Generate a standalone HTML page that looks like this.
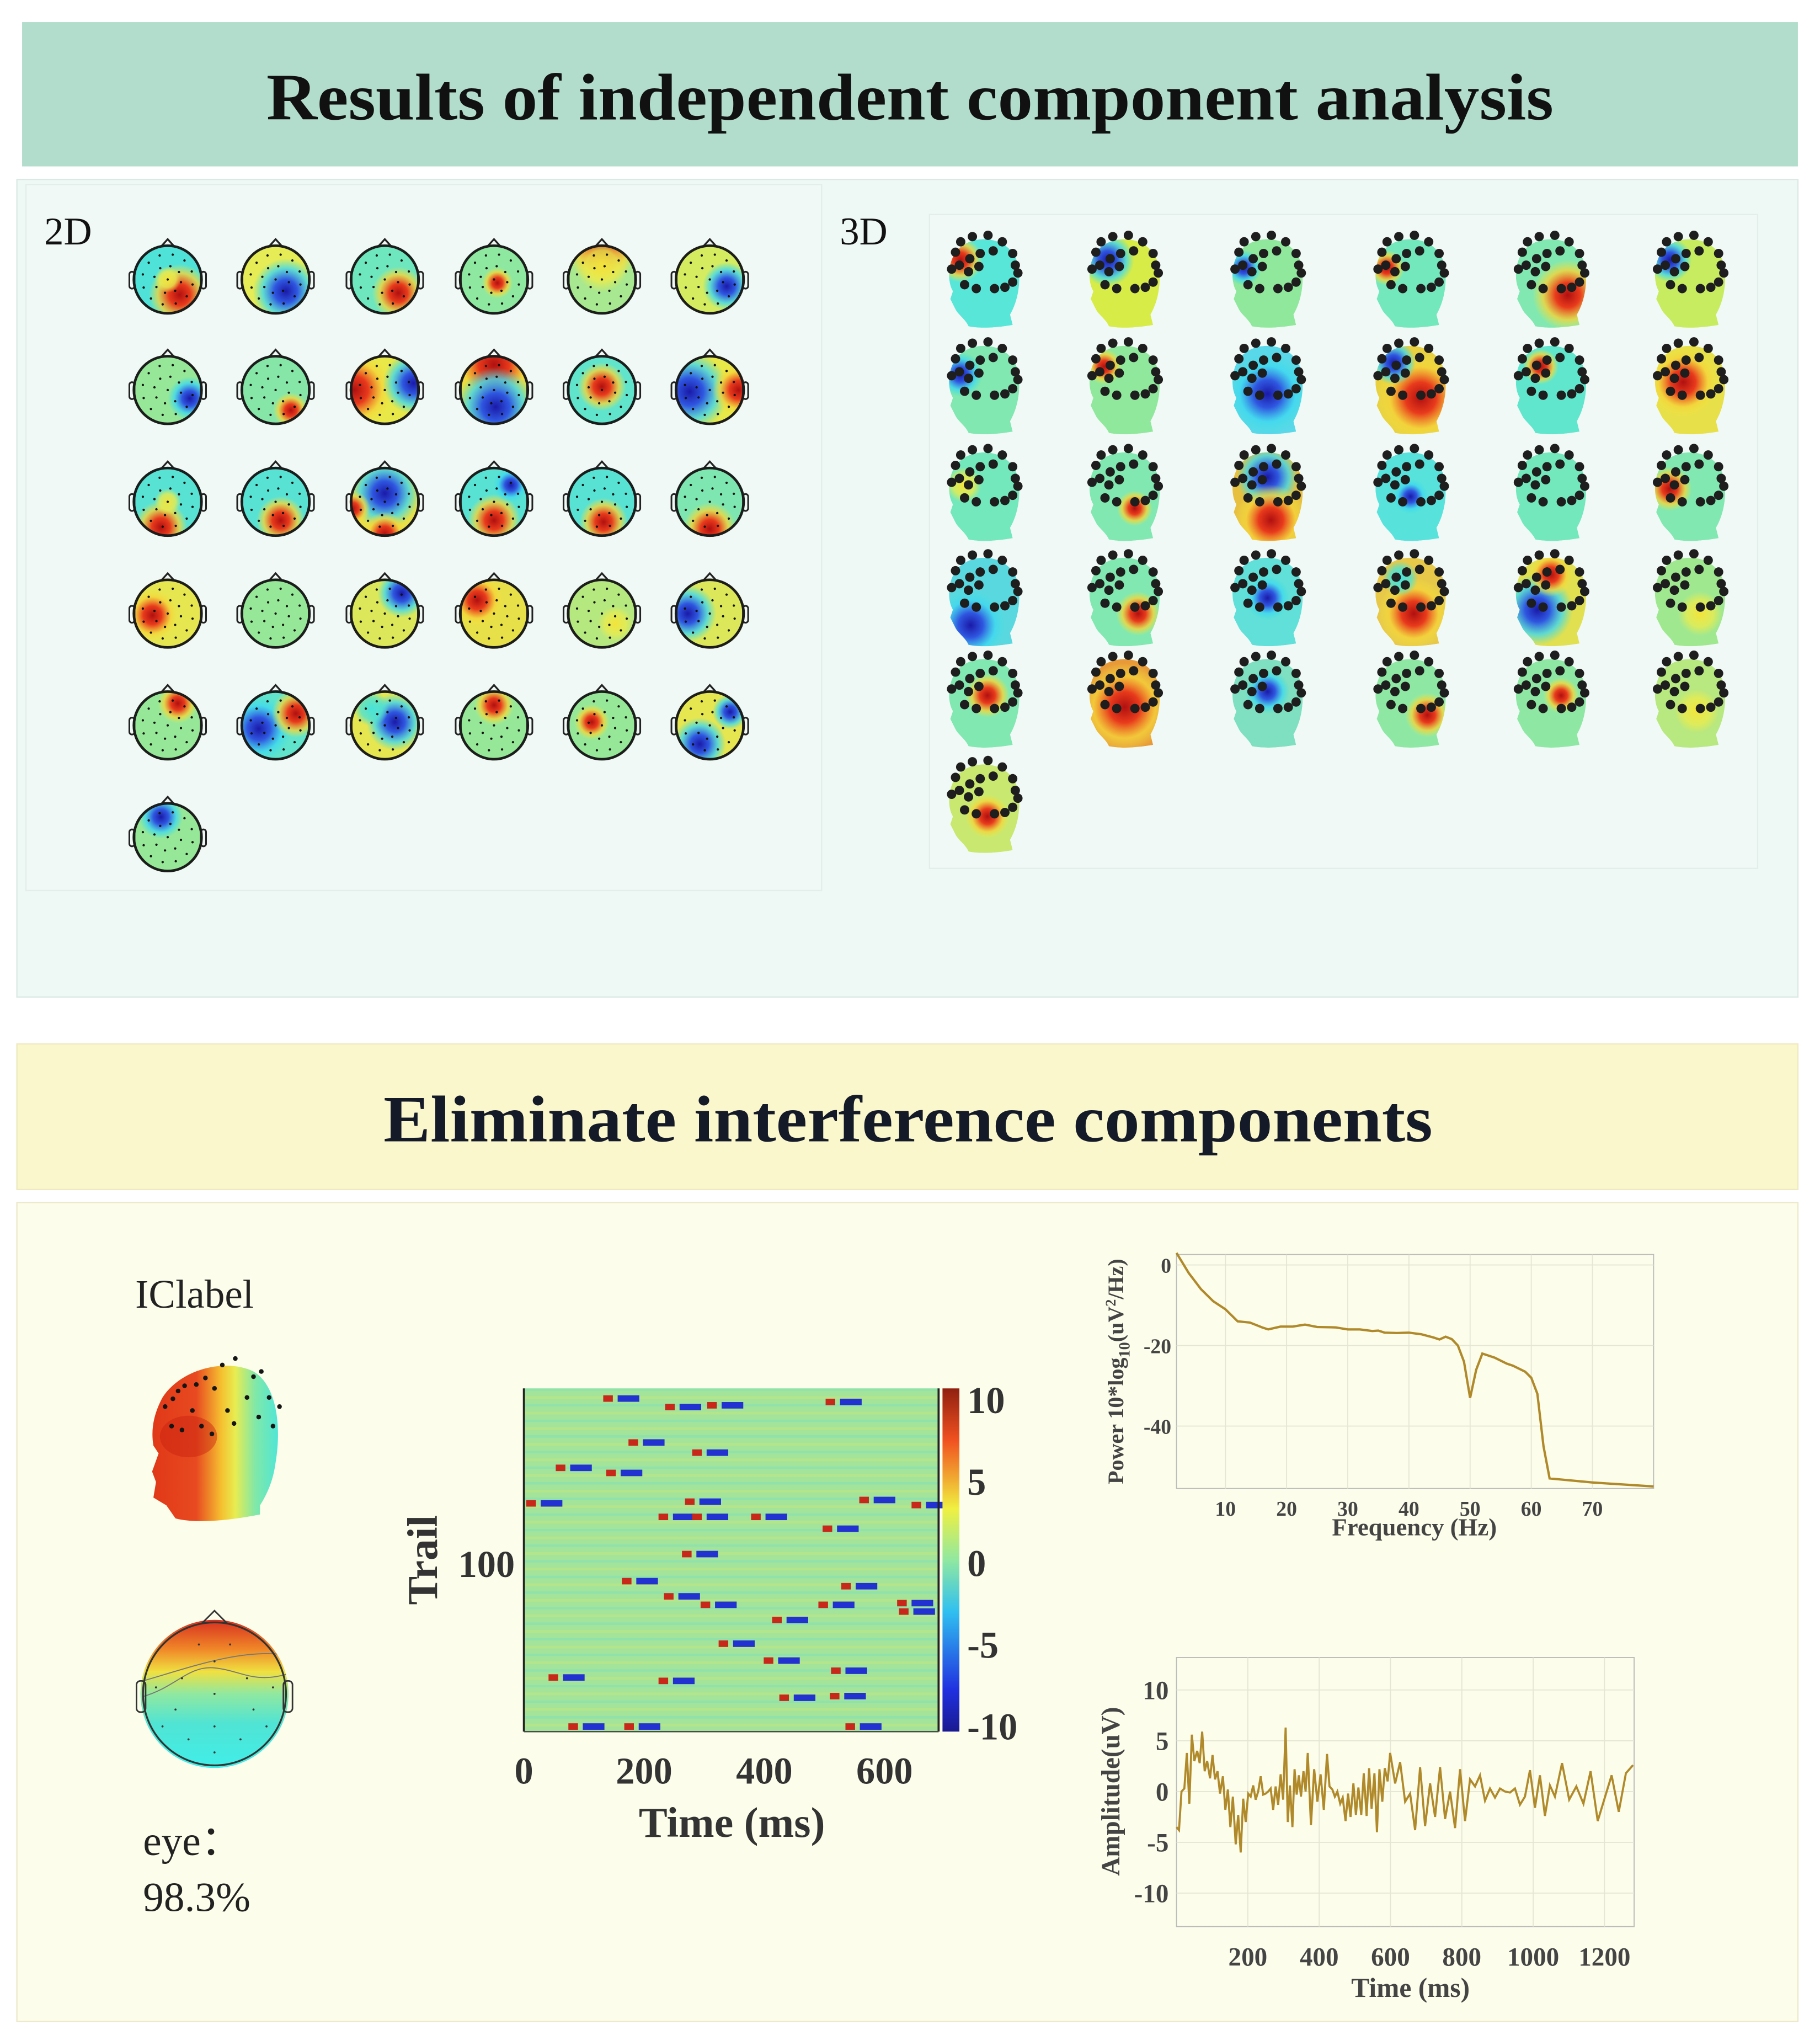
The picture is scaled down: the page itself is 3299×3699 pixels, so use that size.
<!DOCTYPE html>
<html><head><meta charset="utf-8">
<style>
html,body{margin:0;padding:0;background:#fff;}
svg{display:block;}
text{font-family:"Liberation Serif",serif;}
</style></head>
<body>
<svg id="root" width="3299" height="3699" viewBox="0 0 1400 1570" preserveAspectRatio="none" xmlns="http://www.w3.org/2000/svg">
<defs>
  <radialGradient id="g-red"><stop offset="0" stop-color="#b01010"/><stop offset="0.35" stop-color="#e83a1c"/><stop offset="0.7" stop-color="#f5d33a" stop-opacity="0.8"/><stop offset="1" stop-color="#f0e840" stop-opacity="0"/></radialGradient>
  <radialGradient id="g-blue"><stop offset="0" stop-color="#1a1aa8"/><stop offset="0.35" stop-color="#2f56e0"/><stop offset="0.7" stop-color="#3fd8f0" stop-opacity="0.8"/><stop offset="1" stop-color="#40e0e0" stop-opacity="0"/></radialGradient>
  <radialGradient id="g-yellow"><stop offset="0" stop-color="#f3e43a"/><stop offset="0.6" stop-color="#e8ec50" stop-opacity="0.8"/><stop offset="1" stop-color="#e8ec50" stop-opacity="0"/></radialGradient>
  <radialGradient id="g-cyan"><stop offset="0" stop-color="#45e3dc"/><stop offset="0.6" stop-color="#50e2d0" stop-opacity="0.8"/><stop offset="1" stop-color="#50e2d0" stop-opacity="0"/></radialGradient>
  <linearGradient id="jet" x1="0" y1="1" x2="0" y2="0">
    <stop offset="0" stop-color="#1a1a90"/><stop offset="0.12" stop-color="#2030e0"/><stop offset="0.35" stop-color="#30c0f0"/><stop offset="0.5" stop-color="#90e8a0"/><stop offset="0.65" stop-color="#f0f040"/><stop offset="0.85" stop-color="#f05020"/><stop offset="1" stop-color="#902010"/>
  </linearGradient>
  <linearGradient id="bighead" x1="0" y1="0" x2="1" y2="0">
    <stop offset="0" stop-color="#e03818"/><stop offset="0.35" stop-color="#e84a20"/><stop offset="0.55" stop-color="#f5c030"/><stop offset="0.66" stop-color="#e8ec50"/><stop offset="0.82" stop-color="#80e8a8"/><stop offset="1" stop-color="#50e6d6"/>
  </linearGradient>
  <linearGradient id="bigtopo" x1="0" y1="0" x2="0" y2="1">
    <stop offset="0" stop-color="#d83020"/><stop offset="0.2" stop-color="#f08828"/><stop offset="0.35" stop-color="#f0e040"/><stop offset="0.5" stop-color="#90e8a0"/><stop offset="0.7" stop-color="#50e4d4"/><stop offset="1" stop-color="#40eee8"/>
  </linearGradient>
</defs>

<!-- Section 1 -->
<rect x="17" y="17" width="1366" height="111" fill="#b2ddcc"/>
<text x="205" y="92" textLength="990" lengthAdjust="spacingAndGlyphs" font-size="51" font-weight="bold" fill="#111">Results of independent component analysis</text>
<rect x="13" y="138" width="1370" height="629" fill="#eef8f5" stroke="#dbe9e4" stroke-width="1"/>
<rect x="20" y="142" width="612" height="543" fill="#f0f9f6" stroke="#e3eeea" stroke-width="1"/>
<rect x="715" y="165" width="637" height="503" fill="#f0f9f6" stroke="#e3eeea" stroke-width="1"/>
<text x="34" y="188" font-size="30" fill="#111">2D</text>
<text x="646" y="188" font-size="30" fill="#111">3D</text>
<g id="topos2d"></g>
<g id="topos3d"></g>

<!-- Section 2 -->
<rect x="13" y="803" width="1370" height="112" fill="#fbf7cc" stroke="#eee9c0" stroke-width="1"/>
<text x="295" y="878" textLength="807" lengthAdjust="spacingAndGlyphs" font-size="51" font-weight="bold" fill="#141a28">Eliminate interference components</text>
<rect x="13" y="925" width="1370" height="630" fill="#fdfdeb" stroke="#ece9cc" stroke-width="1"/>

<text x="104" y="1006" font-size="31" fill="#222">IClabel</text>
<g id="bigheadg"></g>
<g id="bigtopog"></g>
<text x="110" y="1427" font-size="32" fill="#222">eye：</text>
<text x="110" y="1470" font-size="32" fill="#222">98.3%</text>

<g id="erpimg"></g>
<g id="spec"></g>
<g id="amp"></g>
</svg>

<script>
// ---------- chart data ----------
const specFreq = [2,4,6,8,10,12,14,16,17,19,21,23,25,28,30,32,34,35,36,38,40,42,44,45,46,47,48,49,50,51,52,54,56,57,59,60,61,62,63,70,80];
const specPower = [3,-2,-6,-9,-11,-14,-14.3,-15.5,-16,-15.3,-15.3,-14.8,-15.4,-15.5,-16,-16,-16.4,-16.3,-16.8,-16.9,-16.8,-17.2,-18,-18.5,-17.8,-18.4,-20,-24,-33,-26,-22,-23,-24.5,-25,-26.5,-28,-32,-45,-53,-54,-55];
const specXTicks = [10,20,30,40,50,60,70];
const specYTicks = [0,-20,-40];

const ampTimes = [0,7,14,22,29,36,43,50,58,65,72,79,86,94,101,108,115,122,130,137,144,151,158,166,173,180,
 187,194,201,208,215,222,229,236,243,250,257,264,271,278,285,292,299,306,
 312,318,325,331,337,343,349,356,362,368,
 377,386,395,404,413,422,
 429,437,444,451,459,466,474,481,488,496,503,510,518,525,533,540,547,555,562,569,577,584,592,599,
 613,627,641,655,669,683,697,711,725,739,753,767,781,795,809,823,837,851,865,879,893,907,921,935,949,963,977,991,1005,1019,1033,1047,1061,
 1081,1101,1121,1141,1161,1181,1200,1220,1240,1260,1280];
const ampValues = [-3.5,-3.8,0,0.3,3.8,-1.2,5.6,3,4,2.8,5.9,2,3,1.3,3.6,1.2,2,-0.2,1.5,-1.8,0.2,-3.5,-0.5,-5.2,-2.3,-6,-0.7,-3,-0.2,-0.5,0.6,-0.8,0,1.5,-0.3,-0.2,0,0.3,-1.8,0.5,-1.3,1.7,-0.8,6.3,-3,0.6,-3.5,2.2,-0.3,1.6,-0.5,2,0,3.8,-3.3,2.2,-1,1.7,-1.8,3.7,0.5,0.2,-0.5,0,-1.2,-0.6,-2.9,-0.2,-2.5,0.8,-2.3,0.4,-2.3,1.8,-2.4,2.3,-1.7,1.8,-4,2.2,-1,2.3,1,3.8,0.8,2.9,-1,-0.2,-3.8,2.4,-3.4,0.8,-2.5,2.4,-2.7,0,-3.6,2.2,-2.9,1.2,0.5,1.6,-0.9,0.3,-0.6,0.3,0,-0.1,0.3,-1.3,-0.5,2.1,-1.6,1.6,-2.4,0.6,-0.5,2.8,-0.8,0.5,-1.2,2,-2.9,-0.7,1.6,-2,1.8,2.6,1.3];
const ampXTicks = [200,400,600,800,1000,1200];
const ampYTicks = [10,5,0,-5,-10];

const streakTimes = [132,235,305,502,174,280,53,137,268,558,645,4,224,280,378,497,263,163,528,233,294,490,621,624,413,324,399,511,41,224,425,509,74,167,535];
const streakTrials = [197,192,193,195,171,165,156,153,136,137,134,135,127,127,127,120,105,89,86,80,75,75,76,71,66,52,42,36,32,30,20,21,3,3,3];
const erpXTicks = [0,200,400,600];
const cbTicks = [10,5,0,-5,-10];

const topo2d = [
 ['#4fe2d8',[[0.35,0.45,0.7,'red'],[0,0,0.3,'yellow']]],
 ['#e6ec55',[[0.3,0.35,0.75,'blue']]],
 ['#6ee6be',[[0.4,0.4,0.6,'red']]],
 ['#8ee8a0',[[0.1,0.1,0.35,'red']]],
 ['#a8e890',[[0,-0.9,0.8,'red'],[0,-0.4,0.6,'yellow']]],
 ['#d6ec60',[[0.5,0.2,0.55,'blue']]],
 ['#96e898',[[0.65,0.25,0.5,'blue']]],
 ['#86e6a8',[[0.45,0.6,0.4,'red']]],
 ['#e8e848',[[-0.9,0,0.9,'red'],[0.85,-0.2,0.7,'blue']]],
 ['#e8e040',[[0,-0.75,1.0,'red'],[0.05,0.5,0.9,'blue']]],
 ['#60e4cc',[[0,-0.1,0.55,'red']]],
 ['#e8e848',[[-0.6,0.05,0.9,'blue'],[0.85,0,0.6,'red']]],
 ['#58e2d4',[[-0.2,0.75,0.6,'red'],[0,0,0.3,'yellow']]],
 ['#58e2d4',[[0.15,0.55,0.55,'red']]],
 ['#e8e048',[[0,-0.25,0.8,'blue'],[0,0.95,0.5,'red'],[-0.95,0.2,0.4,'red']]],
 ['#58e2d4',[[0,0.55,0.6,'red'],[0.5,-0.5,0.4,'blue']]],
 ['#58e2d4',[[0.05,0.6,0.55,'red']]],
 ['#7ee6b0',[[0,0.8,0.6,'red']]],
 ['#e6e650',[[-0.45,0.05,0.6,'red']]],
 ['#96e898',[]],
 ['#dce85a',[[0.5,-0.6,0.55,'blue']]],
 ['#e8e048',[[-0.5,-0.4,0.6,'red']]],
 ['#b6e880',[[0.4,0.3,0.4,'yellow']]],
 ['#dce85a',[[-0.65,0,0.65,'blue']]],
 ['#96e898',[[0.3,-0.65,0.45,'red']]],
 ['#60e4cc',[[-0.5,0.1,0.75,'blue'],[0.6,-0.35,0.55,'red']]],
 ['#e6e650',[[0.3,-0.1,0.65,'blue'],[-0.4,-0.5,0.4,'cyan']]],
 ['#96e898',[[0,-0.6,0.45,'red']]],
 ['#96e898',[[-0.3,-0.1,0.4,'red']]],
 ['#e6e650',[[-0.3,0.55,0.6,'blue'],[0.6,-0.4,0.4,'blue']]],
 ['#96e898',[[-0.2,-0.6,0.5,'blue']]]
];
const topo3d = [
 ['#58e6d8',[[-0.7,-0.6,0.5,'red']]],
 ['#d8ec48',[[-0.5,-0.6,0.6,'blue']]],
 ['#90e89c',[[-0.7,-0.4,0.4,'blue']]],
 ['#72e8bc',[[-0.7,-0.4,0.4,'red']]],
 ['#80e8b0',[[0.5,0.3,0.8,'red']]],
 ['#c8ec60',[[-0.6,-0.6,0.5,'blue']]],
 ['#80e8b0',[[-0.7,-0.4,0.5,'blue']]],
 ['#90e89c',[[-0.6,-0.6,0.4,'red']]],
 ['#58d8e8',[[0,0.1,0.9,'blue']]],
 ['#e8d040',[[0.3,0.2,1.0,'red'],[-0.5,-0.7,0.5,'blue']]],
 ['#60e6cc',[[-0.3,-0.6,0.4,'red']]],
 ['#e8e048',[[-0.2,-0.2,0.8,'red']]],
 ['#72e8bc',[[-0.6,-0.3,0.4,'yellow']]],
 ['#80e8b0',[[0.3,0.3,0.4,'red']]],
 ['#e8c040',[[0,-0.5,0.7,'blue'],[0.1,0.6,0.8,'red']]],
 ['#58e2dc',[[0,0,0.4,'blue']]],
 ['#72e8bc',[]],
 ['#80e8b0',[[-0.6,-0.2,0.5,'red']]],
 ['#5ad8e0',[[-0.4,0.6,0.8,'blue']]],
 ['#80e8b0',[[0.4,0.3,0.5,'red']]],
 ['#60e0d8',[[0,-0.1,0.5,'blue']]],
 ['#e8c848',[[0.1,0.3,0.8,'red'],[-0.3,-0.6,0.4,'cyan']]],
 ['#e0e050',[[-0.4,0.2,0.8,'blue'],[0,-0.7,0.5,'red']]],
 ['#a0e890',[[0.3,0.3,0.5,'yellow']]],
 ['#80e8b0',[[0.1,-0.2,0.5,'red']]],
 ['#e89a38',[[0,0.1,1.0,'red']]],
 ['#7ee0c0',[[0,-0.3,0.5,'blue']]],
 ['#8ee8a4',[[0.5,0.3,0.5,'red']]],
 ['#8ee8a4',[[0.3,-0.2,0.4,'red']]],
 ['#b8e880',[[0.2,0.2,0.5,'yellow']]],
 ['#c8e870',[[0.1,0.2,0.5,'red']]]
];

const NS = 'http://www.w3.org/2000/svg';
function mk(tag, attrs, parent){
  const e = document.createElementNS(NS, tag);
  for (const k in attrs) e.setAttribute(k, attrs[k]);
  if (parent) parent.appendChild(e);
  return e;
}
let clipId = 0;

function drawTopo(g, cx, cy, r, spec, idx){
  const grp = mk('g', {}, g);
  
  
  const id = 'c' + (clipId++);
  const cp = mk('clipPath', {id:id}, grp);
  mk('circle', {cx:cx, cy:cy, r:r*1.04}, cp);
  const inner = mk('g', {'clip-path':'url(#'+id+')'}, grp);
  mk('circle', {cx:cx, cy:cy, r:r*1.05, fill:spec[0]}, inner);
  spec[1].forEach(b => mk('circle', {cx:cx+b[0]*r, cy:cy+b[1]*r, r:b[2]*r*1.3, fill:'url(#g-'+b[3]+')'}, inner));
  mk('rect', {x:cx-r-3.5, y:cy-6, width:4, height:13, rx:2, fill:'none', stroke:'#222', 'stroke-width':1.3}, grp);
  mk('rect', {x:cx+r-0.5, y:cy-6, width:4, height:13, rx:2, fill:'none', stroke:'#222', 'stroke-width':1.3}, grp);
  mk('path', {d:`M${cx-5},${cy-r+0.5} L${cx},${cy-r-5} L${cx+5},${cy-r+0.5}`, fill:'none', stroke:'#222', 'stroke-width':1.4}, grp);
  mk('circle', {cx:cx, cy:cy, r:r, fill:'none', stroke:'#1c1c1c', 'stroke-width':2}, grp);
  const pts = [[0,0]];
  [[0.4,8],[0.75,12]].forEach(ring => { for (let k=0;k<ring[1];k++){ const a = 2*Math.PI*k/ring[1] + 0.2; pts.push([ring[0]*Math.cos(a), ring[0]*Math.sin(a)]); } });
  pts.forEach(p => mk('circle', {cx:cx+p[0]*r, cy:cy+p[1]*r, r:0.9, fill:'#111'}, grp));
}

const HEAD_PATH = 'M -18,-28 C -6,-38 18,-36 25,-18 C 29,-5 27,12 20,24 L 22,32 C 10,34 -2,35 -12,33 C -14,28 -20,24 -22,20 L -26,12 L -24,6 C -29,-2 -28,-20 -18,-28 Z';
function drawHead3d(g, cx, cy, spec, idx){
  const grp = mk('g', {}, g);
  
  
  const id = 'c' + (clipId++);
  const cp = mk('clipPath', {id:id}, grp);
  mk('path', {d:HEAD_PATH, transform:`translate(${cx},${cy})`}, cp);
  const inner = mk('g', {'clip-path':'url(#'+id+')'}, grp);
  mk('path', {d:HEAD_PATH, transform:`translate(${cx},${cy})`, fill:spec[0]}, inner);
  spec[1].forEach(b => mk('circle', {cx:cx+b[0]*26, cy:cy+b[1]*30, r:b[2]*34, fill:'url(#g-'+b[3]+')'}, inner));
  const dots = [[-22,-19],[-18,-27],[-9,-31],[3,-32],[14,-27],[22,-18],[24,-9],[26,-3],[-25,-6],[-19,-9],[-11,-14],[-3,-18],[7,-20],[-12,-4],[-4,-8],[-15,6],[-6,9],[8,9],[16,8],[22,4]];
  dots.forEach(d => mk('circle', {cx:cx+d[0], cy:cy+d[1]-5, r:3.6, fill:'#1e1e1e'}, grp));
}

const g2 = document.getElementById('topos2d');
const colX2 = [129,212,296,380,463,546], rowY2 = [215,300,386,472,558,644];
topo2d.forEach((s,i) => drawTopo(g2, colX2[i%6], rowY2[Math.floor(i/6)], 26, s, i));
const g3 = document.getElementById('topos3d');
const colX3 = [757,865,975,1085,1193,1300], rowY3 = [218,300,382,463,541,622];
topo3d.forEach((s,i) => drawHead3d(g3, colX3[i%6], rowY3[Math.floor(i/6)], s, i));

(function(){
  const g = document.getElementById('bigheadg');
  const d = 'M 125,1075 C 140,1052 175,1045 195,1055 C 212,1065 217,1095 212,1125 C 210,1140 205,1150 200,1158 L 200,1165 C 175,1170 150,1172 135,1168 L 128,1158 L 118,1152 L 120,1140 L 117,1132 L 122,1118 L 118,1112 C 116,1100 118,1088 125,1075 Z';
  mk('path', {d:d, fill:'url(#bighead)'}, g);
  mk('ellipse', {cx:145, cy:1105, rx:22, ry:16, fill:'#c82010', opacity:0.45}, g);
  const dots = [[127,1082],[133,1076],[137,1070],[142,1066],[151,1065],[158,1060],[171,1050],[181,1045],[195,1059],[201,1055],[207,1075],[215,1082],[210,1097],[190,1075],[165,1068],[148,1085],[175,1085],[199,1090],[180,1095],[155,1097],[163,1103],[132,1097],[140,1100]];
  dots.forEach(p => mk('circle', {cx:p[0], cy:p[1], r:1.8, fill:'#151515'}, g));
})();
(function(){
  const g = document.getElementById('bigtopog');
  const cx=165, cy=1303, r=55;
  const id='c'+(clipId++);
  const cp = mk('clipPath',{id:id},g);
  mk('circle',{cx:cx,cy:cy,r:r+2},cp);
  mk('circle',{cx:cx,cy:cy,r:r+2,fill:'url(#bigtopo)','clip-path':'url(#'+id+')'},g);
  mk('path',{d:`M${cx-55},${cy-10} C ${cx-20},${cy-20} ${cx+20},${cy-35} ${cx+55},${cy-30}`,fill:'none',stroke:'#777','stroke-width':0.8,'clip-path':'url(#'+id+')'},g);
  mk('path',{d:`M${cx-55},${cy+2} C ${cx-30},${cy-5} ${cx-20},${cy-22} ${cx},${cy-20} C ${cx+20},${cy-18} ${cx+30},${cy-8} ${cx+55},${cy-15}`,fill:'none',stroke:'#777','stroke-width':0.8,'clip-path':'url(#'+id+')'},g);
  mk('circle',{cx:cx,cy:cy,r:r,fill:'none',stroke:'#333','stroke-width':1.4},g);
  mk('path',{d:`M${cx-10},${cy-r+1} L${cx},${cy-r-9} L${cx+10},${cy-r+1}`,fill:'none',stroke:'#333','stroke-width':1.2},g);
  mk('rect',{x:cx-r-5,y:cy-10,width:7,height:24,rx:3,fill:'none',stroke:'#333','stroke-width':1.2},g);
  mk('rect',{x:cx+r-2,y:cy-10,width:7,height:24,rx:3,fill:'none',stroke:'#333','stroke-width':1.2},g);
  [[0,0],[0,-25],[0,25],[0,45],[-25,-12],[25,-12],[-30,12],[30,12],[-45,-5],[45,-5],[-20,35],[20,35],[-40,25],[40,25],[-12,-38],[12,-38]].forEach(p=>mk('circle',{cx:cx+p[0],cy:cy+p[1],r:0.8,fill:'#333'},g));
})();

(function(){
  const g = document.getElementById('erpimg');
  const X0=403, X1=722, Y0=1068, Y1=1332;
  const tMax = 690, trMax = 203;
  const xs = t => X0 + (t/tMax)*(X1-X0);
  const ys = tr => Y1 - (tr/trMax)*(Y1-Y0);
  const bg = mk('rect',{x:X0,y:Y0,width:X1-X0,height:Y1-Y0,fill:'#a4e49a'},g);
  
  
  for (let k=0;k<44;k++){
    const yy = Y0 + k*6;
    mk('rect',{x:X0,y:yy,width:X1-X0,height:2,fill:(k%2?'#d8e870':'#70e0c8'),opacity:0.35},g);
  }
  streakTimes.forEach((t,i)=>{
    const y = ys(streakTrials[i]);
    const r = mk('rect',{x:xs(t),y:y-2.5,width:xs(t+16)-xs(t),height:5,fill:'#c8281a'},g);
    
    
    const b = mk('rect',{x:xs(t+24),y:y-2.5,width:xs(t+60)-xs(t+24),height:5,fill:'#2232d0'},g);
    
    
  });
  mk('line',{x1:X0,y1:Y0,x2:X0,y2:Y1,stroke:'#222','stroke-width':1.6},g);
  mk('line',{x1:X1,y1:Y0,x2:X1,y2:Y1,stroke:'#222','stroke-width':1.6},g);
  mk('line',{x1:X0,y1:Y1,x2:X1,y2:Y1,stroke:'#444','stroke-width':1},g);
  erpXTicks.forEach(t=>{
    const tx = mk('text',{x:xs(t),y:1372,'text-anchor':'middle','font-size':29,'font-weight':'bold',fill:'#333'},g);
    tx.textContent = t;
    
    
  });
  const xl = mk('text',{x:563,y:1413,'text-anchor':'middle','font-size':33,'font-weight':'bold',fill:'#333'},g);
  xl.textContent='Time (ms)';
  
  
  const yl = mk('text',{x:0,y:0,transform:'translate(336,1200) rotate(-90)','text-anchor':'middle','font-size':33,'font-weight':'bold',fill:'#333'},g);
  yl.textContent='Trail';
  
  
  const yt = mk('text',{x:396,y:1213,'text-anchor':'end','font-size':29,'font-weight':'bold',fill:'#333'},g);
  yt.textContent='100';
  
  
  const cb = mk('rect',{x:725,y:Y0,width:13,height:Y1-Y0,fill:'url(#jet)'},g);
  
  
  cbTicks.forEach(v=>{
    const y = 1328 - ((v+10)/20)*(1328-1077);
    const tx = mk('text',{x:744,y:y+10,'font-size':29,'font-weight':'bold',fill:'#333'},g);
    tx.textContent = v;
    
    
  });
})();

(function(){
  const g = document.getElementById('spec');
  const X0=905, X1=1272, Y0=965, Y1=1145;
  const fMin=2, fMax=80, pTop=2.6, pBot=-55.5;
  const xs = f => X0 + (f-fMin)/(fMax-fMin)*(X1-X0);
  const ys = p => Y0 + (pTop-p)/(pTop-pBot)*(Y1-Y0);
  mk('rect',{x:X0,y:Y0,width:X1-X0,height:Y1-Y0,fill:'#fdfdec',stroke:'#bbb','stroke-width':0.8},g);
  specXTicks.forEach(f=>{
    mk('line',{x1:xs(f),y1:Y0,x2:xs(f),y2:Y1,stroke:'#e6e6d4','stroke-width':0.8},g);
    const t = mk('text',{x:xs(f),y:1166,'text-anchor':'middle','font-size':16,'font-weight':'bold',fill:'#444'},g);
    t.textContent=f;
    
    
  });
  specYTicks.forEach(p=>{
    mk('line',{x1:X0,y1:ys(p),x2:X1,y2:ys(p),stroke:'#e6e6d4','stroke-width':0.8},g);
    const t = mk('text',{x:X0-4,y:ys(p)+6,'text-anchor':'end','font-size':16,'font-weight':'bold',fill:'#444'},g);
    t.textContent=p;
    
    
  });
  const line = mk('polyline',{points:specFreq.map((f,i)=>xs(f)+','+ys(specPower[i])).join(' '),fill:'none',stroke:'#b08a2a','stroke-width':1.8},g);
  
  
  const xl = mk('text',{x:1088,y:1181,'text-anchor':'middle','font-size':19,'font-weight':'bold',fill:'#444'},g);
  xl.textContent='Frequency (Hz)';
  
  
  const yl = mk('text',{x:0,y:0,transform:'translate(864,1055) rotate(-90)','text-anchor':'middle','font-size':17,'font-weight':'bold',fill:'#444'},g);
  yl.innerHTML='Power 10*log<tspan font-size="12" dy="5">10</tspan><tspan dy="-5">(uV</tspan><tspan font-size="11" dy="-6">2</tspan><tspan dy="6">/Hz)</tspan>';
  
  
})();

(function(){
  const g = document.getElementById('amp');
  const X0=905, X1=1257, Y0=1275, Y1=1482;
  const tMin=0, tMax=1283, vTop=13.2, vBot=-13.3;
  const xs = t => X0 + (t-tMin)/(tMax-tMin)*(X1-X0);
  const ys = v => Y0 + (vTop-v)/(vTop-vBot)*(Y1-Y0);
  mk('rect',{x:X0,y:Y0,width:X1-X0,height:Y1-Y0,fill:'#fdfdec',stroke:'#bbb','stroke-width':0.8},g);
  ampXTicks.forEach(t=>{
    mk('line',{x1:xs(t),y1:Y0,x2:xs(t),y2:Y1,stroke:'#e6e6d4','stroke-width':0.8},g);
    const tx = mk('text',{x:xs(t),y:1512,'text-anchor':'middle','font-size':20,'font-weight':'bold',fill:'#444'},g);
    tx.textContent=t;
    
    
  });
  ampYTicks.forEach(v=>{
    mk('line',{x1:X0,y1:ys(v),x2:X1,y2:ys(v),stroke:'#e6e6d4','stroke-width':0.8},g);
    const tx = mk('text',{x:X0-6,y:ys(v)+7,'text-anchor':'end','font-size':20,'font-weight':'bold',fill:'#444'},g);
    tx.textContent=v;
    
    
  });
  const n = Math.min(ampTimes.length, ampValues.length);
  const pts = [];
  for (let i=0;i<n;i++) pts.push(xs(ampTimes[i])+','+ys(ampValues[i]));
  const line = mk('polyline',{points:pts.join(' '),fill:'none',stroke:'#b08a2a','stroke-width':1.6},g);
  
  
  const xl = mk('text',{x:1085,y:1536,'text-anchor':'middle','font-size':21,'font-weight':'bold',fill:'#444'},g);
  xl.textContent='Time (ms)';
  
  
  const yl = mk('text',{x:0,y:0,transform:'translate(861,1378) rotate(-90)','text-anchor':'middle','font-size':20,'font-weight':'bold',fill:'#444'},g);
  yl.textContent='Amplitude(uV)';
  
  
})();
</script>
</body></html>
